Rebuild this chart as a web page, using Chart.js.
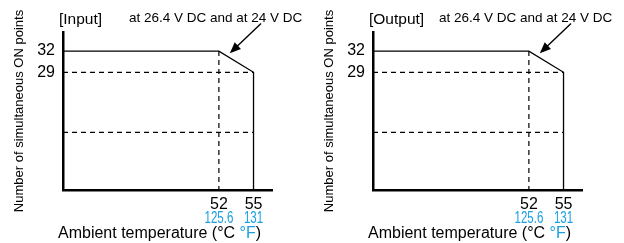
<!DOCTYPE html>
<html>
<head>
  <meta charset="utf-8">
  <title>Simultaneous ON points</title>
  <style>
    body { margin: 0; background: #fff; }
    .panel { position: absolute; top: 0; width: 312px; height: 243px; }
  </style>
</head>
<body>
  <div class="panel" style="left:0"><canvas id="chart-input" width="312" height="243"></canvas></div>
  <div class="panel" style="left:310px"><canvas id="chart-output" width="312" height="243"></canvas></div>

  <script src="https://cdn.jsdelivr.net/npm/chart.js"></script>
  <script>
    // data
    const tempC = [52, 55];
    const tempF = ['125.6', '131'];
    const pointTicks = [32, 29];
    const curveTemp = [38.5, 52, 55, 55];
    const curvePoints = [32, 32, 29, 12.35];
    const guideLevels = [29, 20.5];
    const panelNames = ['[Input]', '[Output]'];
    const note = 'at 26.4 V DC and at 24 V DC';

    const xMin = 38.5, xMax = 56.6, yMin = 12.35, yMax = 34.7;
    const BLUE = '#1a9fe0';
    const SANS = "'Liberation Sans', Arial, sans-serif";

    const toXY = (xs, ys) => xs.map((x, i) => ({ x: x, y: ys[i] }));

    // titles, note, arrow and the °F tick row
    const decor = {
      id: 'decor',
      afterDraw(chart) {
        const ctx = chart.ctx;
        const x = chart.scales.x, y = chart.scales.y;
        const opts = chart.options.plugins.decor;
        ctx.save();
        ctx.fillStyle = '#000';
        ctx.textBaseline = 'alphabetic';

        ctx.font = '15.5px ' + SANS;
        ctx.fillText(opts.name, 59, 24);

        ctx.font = '13.5px ' + SANS;
        ctx.fillText(note, 129, 22);

        // arrow
        const tx = x.getPixelForValue(52.95), ty = y.getPixelForValue(31.7);
        const sx = x.getPixelForValue(55.65), sy = y.getPixelForValue(35.9);
        const ang = Math.atan2(ty - sy, tx - sx);
        const c = Math.cos(ang), s = Math.sin(ang);
        ctx.strokeStyle = '#000';
        ctx.lineWidth = 1.4;
        ctx.beginPath();
        ctx.moveTo(sx, sy);
        ctx.lineTo(tx - 9 * c, ty - 9 * s);
        ctx.stroke();
        ctx.beginPath();
        ctx.moveTo(tx, ty);
        ctx.lineTo(tx - 11 * c + 4.5 * s, ty - 11 * s - 4.5 * c);
        ctx.lineTo(tx - 11 * c - 4.5 * s, ty - 11 * s + 4.5 * c);
        ctx.closePath();
        ctx.fill();

        // °F ticks, condensed
        ctx.fillStyle = BLUE;
        ctx.font = '16px ' + SANS;
        ctx.textAlign = 'center';
        tempC.forEach((v, i) => {
          ctx.save();
          ctx.translate(x.getPixelForValue(v), 222.5);
          ctx.scale(0.72, 1);
          ctx.fillText(tempF[i], 0, 0);
          ctx.restore();
        });
        ctx.textAlign = 'left';

        // x title with blue °F
        ctx.font = '16px ' + SANS;
        let px = 58;
        const parts = [['Ambient temperature (°C ', '#000'], ['°F', BLUE], [')', '#000']];
        parts.forEach(([t, col]) => {
          ctx.fillStyle = col;
          ctx.fillText(t, px, 238);
          px += ctx.measureText(t).width;
        });
        ctx.restore();
      }
    };

    function makeChart(id, name) {
      return new Chart(document.getElementById(id), {
        type: 'line',
        data: {
          datasets: [
            {
              data: toXY(curveTemp, curvePoints),
              borderColor: '#000', borderWidth: 1.3, pointRadius: 0, tension: 0
            },
            {
              data: toXY([xMin, 55], [guideLevels[0], guideLevels[0]]),
              borderColor: '#000', borderWidth: 1.2, borderDash: [5, 4], pointRadius: 0
            },
            {
              data: toXY([xMin, 55], [guideLevels[1], guideLevels[1]]),
              borderColor: '#000', borderWidth: 1.2, borderDash: [5, 4], pointRadius: 0
            },
            {
              data: toXY([tempC[0], tempC[0]], [curvePoints[1], yMin]),
              borderColor: '#000', borderWidth: 1.2, borderDash: [5, 4], pointRadius: 0
            }
          ]
        },
        options: {
          responsive: false,
          animation: false,
          devicePixelRatio: 1,
          layout: { padding: { top: 32, right: 40, left: 0, bottom: 0 } },
          plugins: {
            legend: { display: false },
            tooltip: { enabled: false },
            decor: { name: name }
          },
          scales: {
            x: {
              type: 'linear', position: 'bottom', min: xMin, max: xMax,
              grid: { display: false, drawTicks: false },
              border: { display: true, color: '#000', width: 2.5 },
              ticks: { color: '#000', font: { family: SANS, size: 16 }, padding: 5, maxRotation: 0, autoSkip: false },
              afterBuildTicks: s => { s.ticks = tempC.map(v => ({ value: v })); },
              afterFit: s => { s.height = 53; }
            },
            y: {
              type: 'linear', min: yMin, max: yMax,
              grid: { display: false, drawTicks: false },
              border: { display: true, color: '#000', width: 2.5 },
              ticks: { color: '#000', font: { family: SANS, size: 16 }, padding: 8 },
              afterBuildTicks: s => { s.ticks = pointTicks.map(v => ({ value: v })); },
              afterFit: s => { s.width = 63; },
              title: {
                display: true, text: 'Number of simultaneous ON points', color: '#000',
                font: { family: SANS, size: 13 }, padding: { top: 12, bottom: 0 }
              }
            }
          }
        },
        plugins: [decor]
      });
    }

    makeChart('chart-input', panelNames[0]);
    makeChart('chart-output', panelNames[1]);
  </script>
</body>
</html>
